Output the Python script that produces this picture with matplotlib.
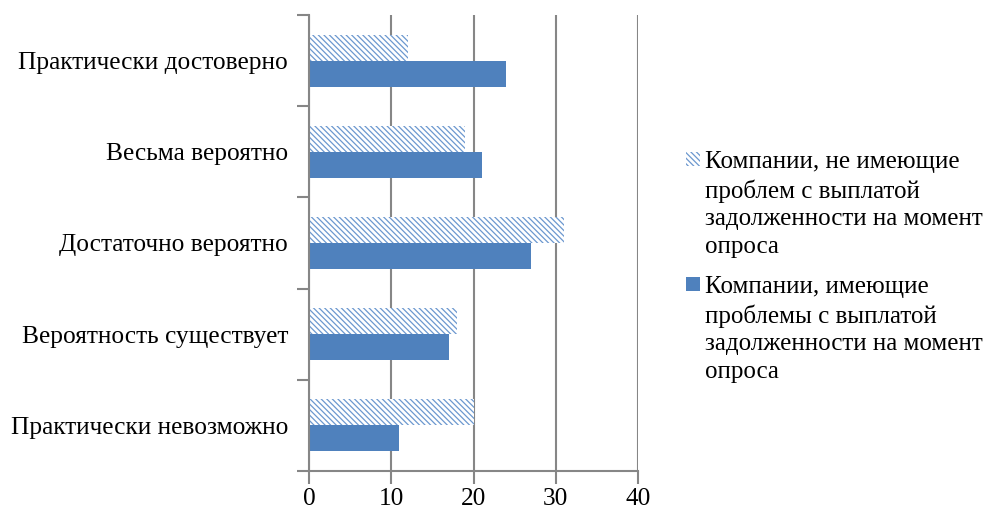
import numpy as np
import matplotlib.pyplot as plt
from matplotlib.patches import Rectangle

plt.rcParams['font.family'] = ['Liberation Serif', 'DejaVu Serif']
plt.rcParams['hatch.linewidth'] = 0.9

categories = ['Практически достоверно', 'Весьма вероятно', 'Достаточно вероятно',
              'Вероятность существует', 'Практически невозможно']
no_problems = [12, 19, 31, 18, 20]
with_problems = [24, 21, 27, 17, 11]
labels = ['Компании, не имеющие\nпроблем с выплатой\nзадолженности на момент\nопроса',
          'Компании, имеющие\nпроблемы с выплатой\nзадолженности на момент\nопроса']

blue = '#4F81BD'
hatch_blue = '#6C98CF'
grey = '#868686'
W, H = 991, 513

fig = plt.figure(figsize=(W / 100, H / 100), dpi=100)
ax = fig.add_axes([309 / W, 42 / H, 329 / W, 456 / H])

y = np.arange(len(categories))[::-1]
h = 0.285
ax.barh(y + h / 2, no_problems, height=h, facecolor='white', edgecolor=hatch_blue,
        hatch='\\' * 6, linewidth=0)
ax.barh(y - h / 2, with_problems, height=h, color=blue)

ax.set_xlim(0, 40)
ax.set_ylim(-0.5, len(categories) - 0.5)
ax.set_xticks([0, 10, 20, 30, 40])
ax.xaxis.grid(True, color=grey, linewidth=1.5)
ax.set_axisbelow(True)

ax.set_yticks(y, categories)
ax.set_yticks(np.arange(len(categories) + 1) - 0.5, minor=True)
ax.tick_params(axis='y', which='major', length=0, pad=15, labelsize=18.3)
ax.tick_params(axis='y', which='minor', length=9, width=1.5, color=grey)
ax.tick_params(axis='x', length=9, width=1.5, color=grey, labelsize=18.3, pad=3)

for s in ['top', 'right']:
    ax.spines[s].set_visible(False)
for s in ['left', 'bottom']:
    ax.spines[s].set_color(grey)
    ax.spines[s].set_linewidth(1.5)

# legend drawn by hand so the markers sit on the first line of each label
styles = [dict(facecolor='white', edgecolor=hatch_blue, hatch='\\' * 6, linewidth=0),
          dict(facecolor=blue, edgecolor=blue, linewidth=0)]
first_baselines = [170, 295]
for lab, st, base in zip(labels, styles, first_baselines):
    fig.patches.append(Rectangle((686 / W, 1 - (base - 4) / H), 14 / W, 14 / H,
                                 transform=fig.transFigure, **st))
    fig.text(705 / W, 1 - (base - 19) / H, lab, fontsize=18, va='top', ha='left',
             linespacing=1.33)

fig.savefig('out.png', dpi=100)
